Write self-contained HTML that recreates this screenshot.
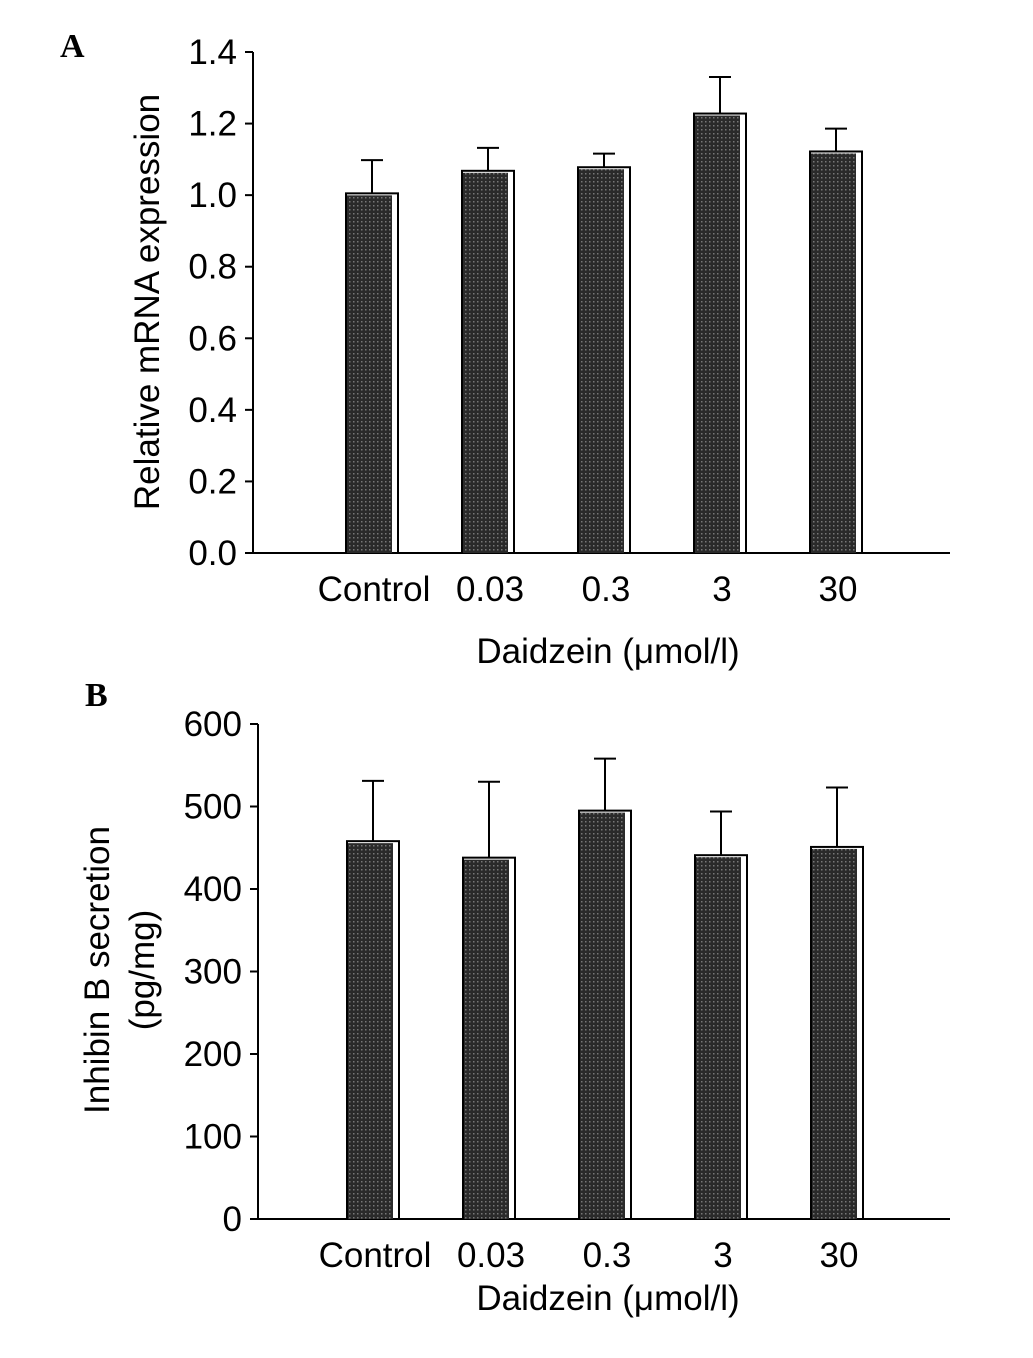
<!DOCTYPE html>
<html><head><meta charset="utf-8"><style>
body{margin:0;background:#fff}
svg text{font-family:"Liberation Sans",sans-serif;fill:#000}
</style></head><body>
<svg id="s" width="1033" height="1353" xmlns="http://www.w3.org/2000/svg">
<defs>
<pattern id="dots" width="4" height="4" patternUnits="userSpaceOnUse">
<rect width="4" height="4" fill="#2a2a2a"/><rect x="1" y="1" width="1.5" height="1.5" fill="#777"/>
</pattern>
</defs>
<text x="60" y="57" font-weight="bold" font-size="34" style="font-family:'Liberation Serif',serif">A</text>
<text x="85" y="706" font-weight="bold" font-size="34" style="font-family:'Liberation Serif',serif">B</text>
</svg>
<script>
const categories=["Control","0.03","0.3","3","30"];
const valuesA=[1.005,1.068,1.078,1.228,1.122];
const errA=[1.098,1.132,1.116,1.330,1.186];
const ticksA=["0.0","0.2","0.4","0.6","0.8","1.0","1.2","1.4"];
const valuesB=[458,438,495,441,451];
const errB=[531,530,558,494,523];
const ticksB=["0","100","200","300","400","500","600"];
const NS="http://www.w3.org/2000/svg";
const svg=document.getElementById('s');
function mk(t,a,p){const e=document.createElementNS(NS,t);for(const k in a)e.setAttribute(k,a[k]);(p||svg).appendChild(e);return e;}
function chart(cfg){
  const g=mk('g',{});
  
  
  const y=v=>cfg.y0-(v-cfg.min)/(cfg.max-cfg.min)*(cfg.y0-cfg.y1);
  const x=i=>cfg.cx0+i*cfg.step;
  const ax=mk('path',{d:`M${cfg.ax},${cfg.y1}V${cfg.y0}H${cfg.axEnd}`,stroke:'#000','stroke-width':2,fill:'none'},g);
  
  
  cfg.ticks.forEach((t,i)=>{
    const v=cfg.min+i*(cfg.max-cfg.min)/(cfg.ticks.length-1);
    mk('line',{x1:cfg.ax-8,x2:cfg.ax,y1:y(v),y2:y(v),stroke:'#000','stroke-width':2},g);
    const tx=mk('text',{x:cfg.ax-16,y:y(v)+12,'text-anchor':'end','font-size':35},g);
    tx.textContent=t;
    
    
  });
  categories.forEach((c,i)=>{
    const cx=x(i),w=52,top=y(cfg.vals[i]);
    const et=y(cfg.errs[i]);
    mk('line',{x1:cx,x2:cx,y1:et,y2:top,stroke:'#000','stroke-width':2},g);
    mk('line',{x1:cx-11,x2:cx+11,y1:et,y2:et,stroke:'#000','stroke-width':2},g);
    const b=mk('rect',{x:cx-w/2,y:top,width:w,height:cfg.y0-top,fill:'#fff',stroke:'#000','stroke-width':2},g);
    
    
    mk('rect',{x:cx-w/2+1,y:top+2,width:w-7,height:cfg.y0-top-2,fill:'url(#dots)'},g);
    const tl=mk('text',{x:cx+2,y:cfg.y0+cfg.tlOff,'text-anchor':'middle','font-size':35},g);
    tl.textContent=c;
    
    
  });
  const xt=mk('text',{x:608,y:cfg.y0+cfg.xtOff,'text-anchor':'middle','font-size':35},g);
  xt.textContent='Daidzein (μmol/l)';
  
  
  cfg.ylab.forEach((l,k)=>{
    const yt=mk('text',{x:0,y:0,'text-anchor':'middle','font-size':35,transform:`translate(${cfg.ylx+k*45},${cfg.yly}) rotate(-90)`},g);
    yt.textContent=l;
    
    
  });
}
chart({name:'chart-a',vals:valuesA,errs:errA,ticks:ticksA,min:0,max:1.4,y0:553,y1:52,ax:253,axEnd:950,cx0:372,step:116,tlOff:48,xtOff:110,ylab:['Relative mRNA expression'],ylx:159,yly:302});
chart({name:'chart-b',vals:valuesB,errs:errB,ticks:ticksB,min:0,max:600,y0:1219,y1:724,ax:258,axEnd:950,cx0:373,step:116,tlOff:48,xtOff:91,ylab:['Inhibin B secretion','(pg/mg)'],ylx:109,yly:970});
</script>
</body></html>
